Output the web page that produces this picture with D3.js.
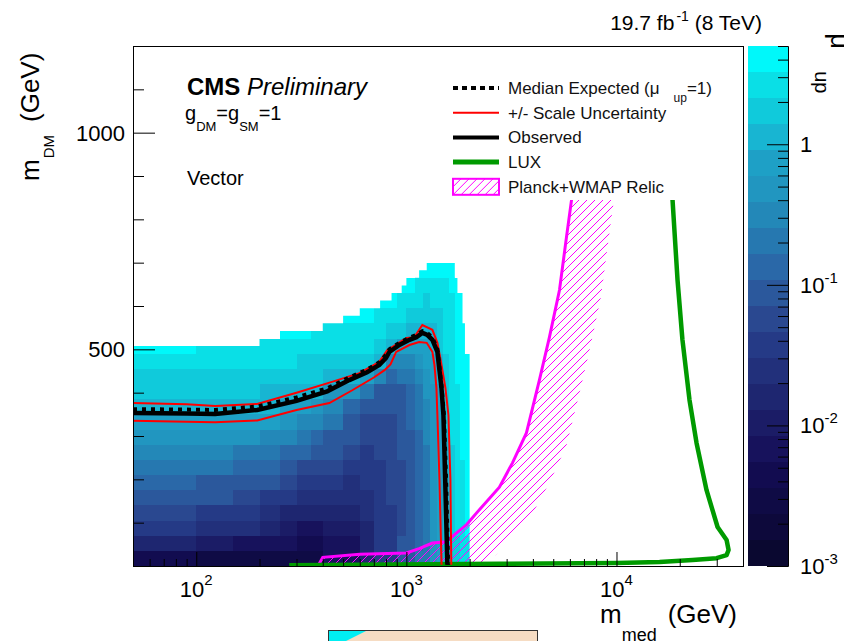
<!DOCTYPE html>
<html lang="en">
<head>
<meta charset="UTF-8">
<title>CMS Vector mediator: m_DM vs m_med</title>
<script src="https://d3js.org/d3.v7.min.js"></script>
<style>
  body { margin: 0; background: #fff; }
  svg { display: block; font-family: "Liberation Sans", Arial, Helvetica, sans-serif; }
</style>
</head>
<body>
<svg id="chart" width="844" height="641"></svg>
<script>
// ---- data ----
// mediator mass bin edges (GeV) of the colour map
const mMedEdges = [50,100,150,200,250,300,350,400,500,600,700,800,900,1000,1100,1200,1300,1400,1500,1600,1700,1800,1900,2000];
// DM mass bin width (GeV); rows start at 0
const mDMBinWidth = 35;
// log10(mu_up) per mediator bin, rows from m_DM = 0 upwards
const muLogByColumn = [
  [-2.35,-1.80,-1.43,-1.22,-1.06,-0.87,-0.69,-0.47,-0.26,-0.10,0.03,0.15,0.29,0.39,0.52],
  [-2.57,-1.98,-1.56,-1.34,-1.15,-0.97,-0.78,-0.56,-0.32,-0.11,0.03,0.15,0.27,0.37,0.39],
  [-2.63,-2.08,-1.65,-1.41,-1.21,-1.00,-0.82,-0.60,-0.35,-0.13,0.03,0.15,0.26,0.33,0.39],
  [-2.63,-2.17,-1.83,-1.56,-1.34,-1.13,-0.95,-0.71,-0.45,-0.21,0.00,0.13,0.24,0.33,0.42],
  [-2.57,-2.26,-1.98,-1.71,-1.48,-1.26,-1.06,-0.82,-0.56,-0.28,-0.06,0.11,0.24,0.33,0.42,0.52],
  [-2.54,-2.30,-2.08,-1.82,-1.59,-1.37,-1.17,-0.95,-0.71,-0.45,-0.19,0.02,0.18,0.31,0.40,0.52],
  [-2.45,-2.28,-2.08,-1.85,-1.65,-1.45,-1.24,-1.04,-0.82,-0.58,-0.30,-0.04,0.15,0.29,0.39,0.50],
  [-2.26,-2.17,-2.02,-1.83,-1.65,-1.48,-1.32,-1.15,-0.97,-0.78,-0.54,-0.23,0.07,0.24,0.35,0.50],
  [-2.08,-2.08,-1.98,-1.83,-1.69,-1.54,-1.41,-1.28,-1.15,-1.00,-0.82,-0.41,0.03,0.22,0.35,0.44,0.52],
  [-1.80,-1.80,-1.74,-1.67,-1.59,-1.52,-1.45,-1.37,-1.30,-1.22,-1.11,-0.69,-0.11,0.18,0.33,0.42,0.52],
  [-1.52,-1.52,-1.52,-1.48,-1.43,-1.37,-1.34,-1.30,-1.26,-1.22,-1.15,-0.97,-0.50,0.05,0.27,0.39,0.48,0.52],
  [-1.34,-1.34,-1.34,-1.34,-1.30,-1.28,-1.24,-1.22,-1.21,-1.19,-1.15,-1.09,-0.87,-0.50,0.07,0.29,0.40,0.52],
  [-1.15,-1.15,-1.19,-1.19,-1.19,-1.19,-1.17,-1.15,-1.13,-1.11,-1.06,-0.97,-0.78,-0.48,-0.08,0.22,0.37,0.46,0.52],
  [-0.97,-1.00,-1.04,-1.06,-1.06,-1.06,-1.04,-1.02,-0.98,-0.95,-0.89,-0.80,-0.65,-0.45,-0.17,0.11,0.29,0.40,0.52],
  [-0.78,-0.82,-0.85,-0.87,-0.89,-0.89,-0.87,-0.85,-0.82,-0.78,-0.72,-0.63,-0.52,-0.37,-0.17,0.05,0.22,0.33,0.44,0.52],
  [-0.60,-0.61,-0.63,-0.65,-0.65,-0.65,-0.63,-0.61,-0.58,-0.54,-0.48,-0.41,-0.32,-0.21,-0.10,0.03,0.18,0.31,0.42,0.52],
  [-0.35,-0.37,-0.39,-0.41,-0.41,-0.41,-0.39,-0.37,-0.35,-0.32,-0.28,-0.23,-0.17,-0.10,0.00,0.11,0.22,0.33,0.42,0.52],
  [-0.17,-0.17,-0.18,-0.18,-0.18,-0.18,-0.17,-0.17,-0.16,-0.15,-0.11,-0.06,0.02,0.09,0.16,0.24,0.31,0.39,0.46,0.52],
  [-0.02,0.00,0.02,0.03,0.05,0.07,0.09,0.11,0.13,0.15,0.18,0.22,0.26,0.29,0.33,0.37,0.40,0.44,0.48,0.52],
  [0.18,0.20,0.22,0.24,0.26,0.27,0.29,0.31,0.33,0.35,0.37,0.39,0.40,0.42,0.44,0.46,0.48,0.50,0.52,0.56],
  [0.29,0.31,0.33,0.35,0.37,0.39,0.40,0.42,0.44,0.46,0.48,0.50,0.52,0.54,0.56,0.57,0.59,0.61,0.63],
  [0.39,0.40,0.42,0.44,0.46,0.48,0.50,0.52,0.54,0.56,0.57,0.59,0.61,0.63,0.64,0.66,0.68,0.68],
  [0.48,0.50,0.52,0.54,0.56,0.57,0.59,0.61,0.63,0.64,0.66,0.68,0.68,0.68]
];
// outline of the scanned region (staircase top and right edge)
const topEdgeMed = [50,200,250,400,500,600,750,850,950,1000,1150,1250];
const topEdgeDM  = [507.5,525,542.5,560,577.5,595,612.5,630,647.5,665,682.5,700];
const rightEdgeMed = [1700,1750,1850,1900,2000];
const rightEdgeDM  = [700,665,630,560,490];

// contours [m_med, m_DM]
const observed = [[50,353],[90,352],[123,351],[195,360],[300,381],[420,403],[535,429],[650,447],[743,464],[800,480],[830,494],[926,510],[1034,522],[1116,528],[1191,538],[1260,533],[1330,522],[1405,494],[1469,411],[1501,348],[1530,200],[1567,3]];
const expected = [[50,362],[90,361],[123,360],[195,368],[300,389],[420,410],[535,435],[650,453],[743,470],[800,487],[830,500],[926,515],[1034,527],[1116,533],[1191,542],[1260,537],[1330,527],[1405,500],[1469,418],[1510,348],[1545,200],[1580,3]];
const scaleUp = [[50,376],[90,373],[123,369],[195,374],[300,400],[450,426],[597,445],[743,471],[810,498],[1000,526],[1090,528],[1191,556],[1330,545],[1405,515],[1450,480],[1534,411],[1586,348],[1620,200],[1636,3]];
const scaleDown = [[50,335],[90,333],[123,332],[195,336],[300,360],[430,376],[550,405],[700,435],[787,452],[840,465],[894,494],[1034,510],[1150,517],[1250,515],[1330,494],[1360,464],[1390,411],[1405,348],[1437,200],[1470,3]];
const luxLimit = [[277,2],[2772,5],[10000,7],[16030,9],[23000,14],[29930,18],[33420,25],[34150,37],[33420,60],[30270,90],[26830,175],[24040,284],[22260,383],[20600,522],[19520,660],[18480,845],[18000,960]];
const relicDensity = [[385,5],[400,20],[600,27],[1000,30],[1150,40],[1330,53],[1550,56],[1729,76],[1931,95],[2154,122],[2772,182],[3199,238],[3727,307],[4296,429],[4796,528],[5355,637],[5780,759],[6110,845],[6400,930]];

const legendLabels = ["Median Expected (μ", "+/- Scale Uncertainty", "Observed", "LUX", "Planck+WMAP Relic"];

// ---- layout ----
const svg = d3.select("#chart");
const plot = { left: 133, right: 743, top: 46, bottom: 566 };
const bar = { left: 748, right: 788 };
const magenta = "#ff00ff";

const x = d3.scaleLog().domain([50, 40000]).range([plot.left, plot.right]);
const y = d3.scaleLinear().domain([0, 1200]).range([plot.bottom, plot.top]);
const z = d3.scaleLog().domain([1e-3, 5]).range([plot.bottom, plot.top]);

const nBands = 20;
const zLogMin = -3, zLogMax = Math.log10(5);
const band = d3.scaleQuantize().domain([zLogMin, zLogMax]).range(d3.range(nBands));
const bandColor = d3.scaleLinear()
    .domain([0, 3, 4, 6, 8, 9, 10, 11, 12, 13, 14, 15, 16, 17, 18, 19])
    .range(["#0a0830","#120c50","#17125c","#1e2670","#253a86","#2a4890","#2b589c","#2a68a8",
            "#2678b0","#2388b8","#2196c0","#1ea0c6","#18b5d2","#10cadb","#0adfe6","#00f8fa"])
    .interpolate(d3.interpolateRgb);

const defs = svg.append("defs");
defs.append("clipPath").attr("id", "plotClip")
  .append("rect")
    .attr("x", plot.left).attr("y", plot.top)
    .attr("width", plot.right - plot.left).attr("height", plot.bottom - plot.top);

// outline of the scan in data space
const edge = [[mMedEdges[0], 0]];
topEdgeMed.forEach((m, i) => {
  const next = i + 1 < topEdgeMed.length ? topEdgeMed[i + 1] : rightEdgeMed[0];
  edge.push([m, topEdgeDM[i]], [next, topEdgeDM[i]]);
});
rightEdgeMed.forEach((m, j) => {
  const below = j + 1 < rightEdgeDM.length ? rightEdgeDM[j + 1] : 0;
  const next = j + 1 < rightEdgeMed.length ? rightEdgeMed[j + 1] : m;
  edge.push([m, below], [next, below]);
});
defs.append("clipPath").attr("id", "scanClip")
  .append("path")
    .attr("d", d3.line().x(d => x(d[0])).y(d => y(d[1]))(edge) + "Z");

// relic band: hatched strip on one side of the curve
const relicPx = relicDensity.map(d => [x(d[0]), y(d[1])]);
const bandW = 42;
const offsetPx = relicPx.map((p, i) => {
  const a = relicPx[Math.max(i - 1, 0)], b = relicPx[Math.min(i + 1, relicPx.length - 1)];
  const dx = b[0] - a[0], dy = b[1] - a[1], len = Math.hypot(dx, dy);
  return [p[0] - dy / len * bandW, p[1] + dx / len * bandW];
});
defs.append("clipPath").attr("id", "relicClip")
  .append("path").attr("d", d3.line()(relicPx.concat(offsetPx.slice().reverse())) + "Z");

// diagonal hatch lines "/" inside a box
function hatchLines(g, x0, x1, y0, y1, gap) {
  const h = y1 - y0;
  for (let a = x0 - h; a < x1; a += gap) {
    g.append("line").attr("x1", a).attr("y1", y1).attr("x2", a + h).attr("y2", y0)
        .attr("stroke", magenta).attr("stroke-width", 1);
  }
}

// ---- colour map ----
const cells = [];
muLogByColumn.forEach((col, c) => col.forEach((v, r) => cells.push({ c, r, v })));

const plotArea = svg.append("g").attr("clip-path", "url(#plotClip)");
plotArea.append("g").attr("clip-path", "url(#scanClip)")
  .selectAll("rect").data(cells).join("rect")
    .attr("shape-rendering", "crispEdges")
    .attr("x", d => Math.round(x(mMedEdges[d.c])))
    .attr("width", d => Math.round(x(mMedEdges[d.c + 1])) - Math.round(x(mMedEdges[d.c])))
    .attr("y", d => Math.round(y((d.r + 1) * mDMBinWidth)))
    .attr("height", d => Math.round(y(d.r * mDMBinWidth)) - Math.round(y((d.r + 1) * mDMBinWidth)))
    .attr("fill", d => bandColor(band(d.v)));

const relicHatch = plotArea.append("g").attr("clip-path", "url(#relicClip)");
hatchLines(relicHatch, plot.left, plot.right, plot.top, plot.bottom, 8);

const line = d3.line().x(d => x(d[0])).y(d => y(d[1]));
plotArea.append("path").attr("d", line(relicDensity))
    .attr("fill", "none").attr("stroke", magenta).attr("stroke-width", 3);

plotArea.append("path").attr("d", line(luxLimit))
    .attr("fill", "none").attr("stroke", "#009a00").attr("stroke-width", 4.5)
    .attr("stroke-linejoin", "round");

[scaleUp, scaleDown].forEach(s => plotArea.append("path").attr("d", line(s))
    .attr("fill", "none").attr("stroke", "#ff0000").attr("stroke-width", 2));
plotArea.append("path").attr("d", line(observed))
    .attr("fill", "none").attr("stroke", "#000").attr("stroke-width", 4.5);
plotArea.append("path").attr("d", line(expected))
    .attr("fill", "none").attr("stroke", "#000").attr("stroke-width", 4)
    .attr("stroke-dasharray", "4 5");

// ---- legend ----
const leg = svg.append("g");
leg.append("rect").attr("x", 445).attr("y", 68).attr("width", 268).attr("height", 132).attr("fill", "#fff");
const rowY = i => 88 + i * 24.7;
leg.append("line").attr("x1", 453).attr("x2", 499).attr("y1", rowY(0)).attr("y2", rowY(0))
    .attr("stroke", "#000").attr("stroke-width", 4).attr("stroke-dasharray", "5 4");
leg.append("line").attr("x1", 453).attr("x2", 499).attr("y1", rowY(1)).attr("y2", rowY(1))
    .attr("stroke", "#ff0000").attr("stroke-width", 2);
leg.append("line").attr("x1", 453).attr("x2", 499).attr("y1", rowY(2)).attr("y2", rowY(2))
    .attr("stroke", "#000").attr("stroke-width", 4);
leg.append("line").attr("x1", 453).attr("x2", 499).attr("y1", rowY(3)).attr("y2", rowY(3))
    .attr("stroke", "#009a00").attr("stroke-width", 5);
defs.append("clipPath").attr("id", "legHatchClip")
  .append("rect").attr("x", 453).attr("y", rowY(4) - 8).attr("width", 46).attr("height", 16);
hatchLines(leg.append("g").attr("clip-path", "url(#legHatchClip)"), 453, 499, rowY(4) - 8, rowY(4) + 8, 8);
leg.append("rect").attr("x", 453).attr("y", rowY(4) - 8).attr("width", 46).attr("height", 16)
    .attr("fill", "none").attr("stroke", magenta).attr("stroke-width", 2);
legendLabels.forEach((t, i) => {
  const txt = leg.append("text").attr("x", 508).attr("y", rowY(i) + 6)
      .attr("font-size", 17).attr("fill", "#111").text(t);
  if (i === 0) {
    txt.append("tspan").attr("font-size", 12).attr("dx", 14).attr("dy", 8).text("up");
    txt.append("tspan").attr("dy", -8).text("=1)");
  }
});

// ---- colour bar ----
const step = (zLogMax - zLogMin) / nBands;
svg.append("g").selectAll("rect").data(d3.range(nBands)).join("rect")
    .attr("shape-rendering", "crispEdges")
    .attr("x", bar.left).attr("width", bar.right - bar.left)
    .attr("y", k => Math.round(z(Math.pow(10, zLogMin + (k + 1) * step))))
    .attr("height", k => Math.round(z(Math.pow(10, zLogMin + k * step))) - Math.round(z(Math.pow(10, zLogMin + (k + 1) * step))))
    .attr("fill", k => bandColor(k));

const isDecade = v => Math.abs(Math.log10(v) - Math.round(Math.log10(v))) < 1e-9;
const zTicks = z.ticks();
const zAxis = svg.append("g").attr("transform", `translate(${bar.right},0)`).attr("color", "#000");
zAxis.call(d3.axisRight(z).tickValues(zTicks.filter(v => !isDecade(v))).tickSize(-10).tickFormat(""));
zAxis.append("g").call(d3.axisRight(z).tickValues(zTicks.filter(isDecade)).tickSize(-21).tickFormat(""))
    .call(g => g.select(".domain").remove());
const zl = svg.append("g").attr("font-size", 22).attr("fill", "#000");
zTicks.filter(isDecade).forEach(v => {
  const p = Math.round(Math.log10(v));
  const t = zl.append("text").attr("x", 800).attr("y", z(v) + 8);
  if (p === 0) { t.text("1"); return; }
  t.append("tspan").text("10");
  t.append("tspan").attr("font-size", 15).attr("dy", -10).text("-" + Math.abs(p));
});
const zt = svg.append("text").attr("transform", "translate(831,33) rotate(90)")
    .attr("font-size", 28).attr("fill", "#000").text("μ");
zt.append("tspan").attr("font-size", 20).attr("dx", 22).attr("dy", 16).text("up");

// ---- axes ----
const xTicks = x.ticks();
const xAxis = svg.append("g").attr("transform", `translate(0,${plot.bottom})`).attr("color", "#000");
xAxis.call(d3.axisBottom(x).tickValues(xTicks.filter(v => !isDecade(v))).tickSize(-7).tickFormat(""))
    .call(g => g.select(".domain").remove());
xAxis.append("g").call(d3.axisBottom(x).tickValues(xTicks.filter(isDecade)).tickSize(-14).tickFormat(""))
    .call(g => g.select(".domain").remove());
const xl = svg.append("g").attr("font-size", 22).attr("fill", "#000");
xTicks.filter(isDecade).forEach(v => {
  const t = xl.append("text").attr("x", x(v)).attr("y", 597).attr("text-anchor", "middle");
  t.append("tspan").text("10");
  t.append("tspan").attr("font-size", 15).attr("dy", -12).text(Math.round(Math.log10(v)));
});

const yMinor = d3.range(0, 1201, 100);
const yMajor = [0, 500, 1000];
const yAxis = svg.append("g").attr("transform", `translate(${plot.left},0)`).attr("color", "#000");
yAxis.call(d3.axisLeft(y).tickValues(yMinor.filter(v => !yMajor.includes(v))).tickSize(-11).tickFormat(""))
    .call(g => g.select(".domain").remove());
yAxis.append("g").call(d3.axisLeft(y).tickValues(yMajor).tickSize(-22).tickFormat(""))
    .call(g => g.select(".domain").remove());
svg.append("g").attr("font-size", 22).attr("fill", "#000").attr("text-anchor", "end")
  .selectAll("text").data(yMajor.filter(v => v > 0)).join("text")
    .attr("x", 125).attr("y", d => y(d) + 8).text(d => d);

// frame
svg.append("rect")
    .attr("x", plot.left + 0.5).attr("y", plot.top + 0.5)
    .attr("width", plot.right - plot.left).attr("height", plot.bottom - plot.top)
    .attr("fill", "none").attr("stroke", "#000").attr("stroke-width", 1);

// axis titles
const xt = svg.append("text").attr("x", 600).attr("y", 623).attr("font-size", 26).attr("fill", "#000").text("m");
xt.append("tspan").attr("font-size", 18).attr("dy", 18).text("med");
xt.append("tspan").attr("dx", 11).attr("dy", -18).text("(GeV)");

const yt = svg.append("text").attr("transform", "translate(39,181) rotate(-90)")
    .attr("font-size", 26).attr("fill", "#000").text("m");
yt.append("tspan").attr("font-size", 15).attr("dx", 1).attr("dy", 15).text("DM");
yt.append("tspan").attr("dx", 13).attr("dy", -15).text("(GeV)");

// ---- labels ----
const lumi = svg.append("text").attr("x", 762).attr("y", 30).attr("text-anchor", "end")
    .attr("font-size", 21).attr("fill", "#000").text("19.7 fb");
lumi.append("tspan").attr("font-size", 14).attr("dx", 2).attr("dy", -9).text("-1");
lumi.append("tspan").attr("dy", 9).text(" (8 TeV)");

const cms = svg.append("text").attr("x", 187).attr("y", 95).attr("font-size", 24).attr("fill", "#000");
cms.append("tspan").attr("font-weight", "bold").text("CMS");
cms.append("tspan").attr("font-style", "italic").text(" Preliminary");

const coup = svg.append("text").attr("x", 185).attr("y", 120).attr("font-size", 20).attr("fill", "#000").text("g");
coup.append("tspan").attr("font-size", 13).attr("dy", 11).text("DM");
coup.append("tspan").attr("dy", -11).text("=g");
coup.append("tspan").attr("font-size", 13).attr("dy", 11).text("SM");
coup.append("tspan").attr("dy", -11).text("=1");

svg.append("text").attr("x", 187).attr("y", 185).attr("font-size", 20).attr("fill", "#000").text("Vector");

// partly visible box below the canvas edge
svg.append("rect").attr("x", 328.5).attr("y", 630.5).attr("width", 209).attr("height", 20)
    .attr("fill", "#f6dcc3").attr("stroke", "#333");
svg.append("path").attr("d", "M329,631 L366,631 L346,641 L329,641 Z").attr("fill", "#00eef2");
</script>
</body>
</html>
